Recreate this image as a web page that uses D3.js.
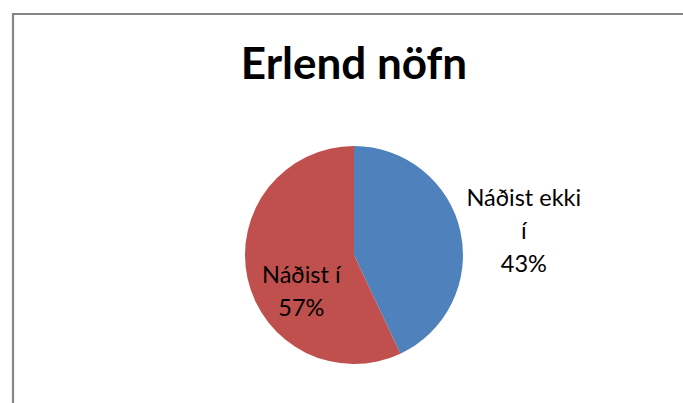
<!DOCTYPE html>
<html>
<head>
<meta charset="utf-8">
<script src="https://cdn.jsdelivr.net/npm/d3@7"></script>
<style>
  body { margin: 0; background: #fff; }
  svg { display: block; }
  text { font-family: Lato, "Liberation Sans", sans-serif; fill: #000; }
</style>
</head>
<body>
<svg id="chart"></svg>
<script>
// data
let categories = ["Náðist ekki í", "Náðist í"];
let labelLines = [["Náðist ekki", "í"], ["Náðist í"]];
let values = [43, 57];
let colors = ["#4F81BD", "#C0504D"];
let title = "Erlend nöfn";

let width = 683,
    height = 403,
    cx = 354,
    cy = 255,
    radius = 109;

let svg = d3.select("#chart")
    .attr("width", width)
    .attr("height", height);

// chart frame (runs off right and bottom)
svg.append("path")
    .attr("d", "M13," + height + " V14 H" + width)
    .attr("fill", "none")
    .attr("stroke", "#868686")
    .attr("stroke-width", 2.2);

svg.append("text")
    .attr("x", cx)
    .attr("y", 79)
    .attr("text-anchor", "middle")
    .style("font-weight", "bold")
    .style("font-size", "44px")
    .text(title);

let data = categories.map((c, i) => ({name: c, lines: labelLines[i], value: values[i], color: colors[i]}));

let pie = d3.pie()
    .sort(null)
    .value(d => d.value);

let arc = d3.arc()
    .innerRadius(0)
    .outerRadius(radius);

let g = svg.append("g")
    .attr("transform", "translate(" + cx + "," + cy + ")");

let arcs = pie(data);

g.selectAll("path.slice")
    .data(arcs)
    .enter()
    .append("path")
    .attr("class", "slice")
    .attr("d", arc)
    .attr("fill", d => d.data.color);

// label placement: first slice outside, second inside
let labelRadius = [174, 54];
let labelShift = [13.5, 25];

let labels = g.selectAll("text.lbl")
    .data(arcs)
    .enter()
    .append("text")
    .attr("class", "lbl")
    .attr("text-anchor", "middle")
    .style("font-size", "23.5px")
    .attr("transform", (d, i) => {
        let a = (d.startAngle + d.endAngle) / 2;
        let x = Math.sin(a) * labelRadius[i];
        let y = -Math.cos(a) * labelRadius[i] + labelShift[i];
        return "translate(" + x + "," + y + ")";
    });

labels.each(function (d) {
    let t = d3.select(this);
    let lines = d.data.lines.concat([d.data.value + "%"]);
    let lineH = 33;
    let top = -((lines.length - 1) * lineH) / 2 + 8;
    lines.forEach((l, k) => {
        t.append("tspan")
            .attr("x", 0)
            .attr("y", top + k * lineH)
            .text(l);
    });
});
</script>
</body>
</html>
